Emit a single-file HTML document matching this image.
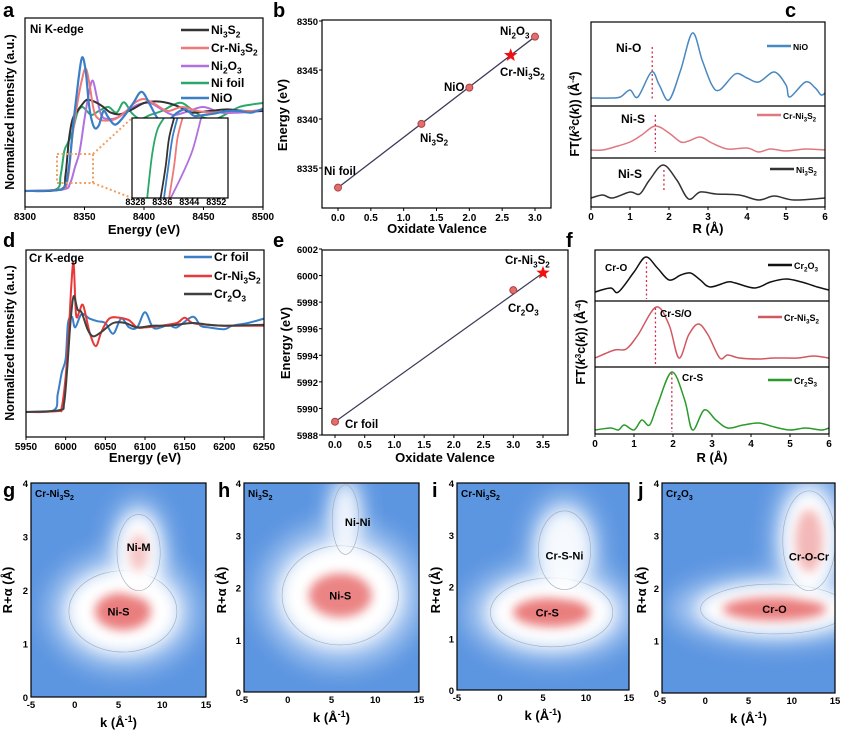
<!DOCTYPE html>
<html><head><meta charset="utf-8"><style>
html,body{margin:0;padding:0;background:#fff;}
svg{display:block;font-family:"Liberation Sans",Arial,sans-serif;}
text{font-weight:bold;}
</style></head><body>
<svg id="fig" width="842" height="742" viewBox="0 0 842 742" xmlns="http://www.w3.org/2000/svg">
<defs>
<filter id="blurA" x="-50%" y="-50%" width="200%" height="200%"><feGaussianBlur stdDeviation="8"/></filter>
<filter id="blurO" x="-50%" y="-50%" width="200%" height="200%"><feGaussianBlur stdDeviation="12"/></filter>
<filter id="blurB" x="-50%" y="-50%" width="200%" height="200%"><feGaussianBlur stdDeviation="5"/></filter>
<clipPath id="cg"><rect x="31" y="483" width="175" height="214"/></clipPath>
<clipPath id="ch"><rect x="244" y="483" width="175" height="209"/></clipPath>
<clipPath id="ci"><rect x="457" y="483" width="172" height="207"/></clipPath>
<clipPath id="cj"><rect x="662" y="483" width="173" height="210"/></clipPath>
</defs>
</svg>
<script>
// ===== Panel a data (Ni K-edge XANES) =====
const aNiOE=[8300,8325,8333,8337,8341,8345,8348,8351,8354,8358,8362,8366,8370,8376,8384,8391,8398,8405,8412,8420,8428,8435,8442,8450,8460,8470,8480,8490,8500];
const aNiOV=[0,0.01,0.05,0.3,0.9,1.4,1.67,1.5,1.05,0.8,0.82,1.0,0.92,0.83,0.95,1.1,1.24,1.08,0.9,0.88,0.98,1.02,0.94,0.95,0.97,1.0,1.0,0.98,1.03];
const aCrE=[8300,8330,8336,8340,8344,8348,8351,8354,8358,8362,8368,8376,8385,8392,8400,8410,8420,8432,8445,8460,8475,8490,8500];
const aCrV=[0,0.02,0.15,0.7,1.1,1.4,1.53,1.35,1.0,0.9,0.88,0.9,1.0,1.1,1.15,1.08,1.0,1.05,1.0,0.98,1.0,1.0,1.02];
const aO3E=[8300,8332,8338,8342,8346,8350,8354,8357,8360,8364,8370,8378,8386,8395,8405,8415,8425,8438,8450,8465,8480,8500];
const aO3V=[0,0.02,0.1,0.3,0.5,0.9,1.25,1.38,1.2,0.95,0.9,0.92,1.0,1.08,1.1,1.02,0.95,1.0,1.05,0.98,0.98,1.0];
const aS2E=[8300,8330,8334,8337,8340,8344,8348,8352,8358,8365,8372,8380,8390,8400,8410,8420,8430,8440,8455,8470,8485,8500];
const aS2V=[0,0.02,0.2,0.65,0.9,1.0,1.08,1.14,1.12,1.06,0.98,0.96,1.02,1.1,1.12,1.1,1.05,0.98,1.0,1.02,1.0,1.0];
const aFoE=[8300,8326,8330,8333,8336,8340,8344,8348,8352,8356,8362,8370,8377,8383,8390,8397,8405,8415,8425,8432,8440,8450,8460,8470,8480,8490,8500];
const aFoV=[0,0.02,0.2,0.5,0.6,0.75,0.98,1.05,1.0,0.95,1.0,1.05,0.98,1.11,0.97,0.9,0.95,1.0,1.08,1.1,1.02,0.92,0.9,0.97,1.05,1.08,1.1];
// inset (zoomed edge)
const inE_Fo=[8331.5,8333,8334.5,8336.5];const inV_Fo=[0.0,0.55,0.85,1.0];
const inE_S2=[8335.5,8337,8338,8339.5];const inV_S2=[0.0,0.4,0.75,1.0];
const inE_NiO=[8336.5,8337.8,8339,8340.5];const inV_NiO=[0.0,0.4,0.75,1.0];
const inE_Cr=[8338,8339.5,8340.5,8342];const inV_Cr=[0.0,0.4,0.75,1.0];
const inE_O3=[8338.5,8342,8345,8347.5];const inV_O3=[0.0,0.3,0.6,1.0];
const aXTicks=[8300,8350,8400,8450,8500];
const inTicks=[8328,8336,8344,8352];
// ===== Panel b data =====
const bVal=[0,1.27,2,3];
const bEn=[8333,8339.5,8343.2,8348.4];
const bStar=[2.63,8346.5];
const bXTicks=[0,0.5,1,1.5,2,2.5,3];
const bYTicks=[8335,8340,8345,8350];
// ===== Panel c data (FT-EXAFS Ni) =====
const cNiOR=[0,0.5,0.75,1.0,1.2,1.55,1.75,2.0,2.3,2.6,2.85,3.1,3.3,3.7,4.0,4.3,4.7,5.0,5.1,5.5,5.75,5.9,6.0];
const cNiOV=[8,8,9,16,9,34,21,6,36,73,46,21,16,32,28,24,34,21,9,24,18,11,13];
const cCrR=[0,0.3,0.6,1.0,1.3,1.65,2.0,2.3,2.5,2.8,3.1,3.5,4.0,4.3,4.6,5.0,5.5,6.0];
const cCrV=[8,8,11,16,23,32,25,16,17,21,15,9,10,6,9,7,9,8];
const cS2R=[0,0.3,0.55,1.0,1.25,1.5,1.85,2.2,2.5,2.8,3.2,3.8,4.3,4.7,5.2,6.0];
const cS2V=[9,12,9,15,13,27,42,27,8,15,13,12,7,11,7,9];
const cXTicks=[0,1,2,3,4,5,6];
// ===== Panel d data (Cr K-edge) =====
const dFoE=[5950,5985,5990,5995,6000,6003,6008,6012,6020,6030,6040,6050,6060,6070,6080,6090,6100,6110,6120,6130,6140,6160,6170,6180,6200,6210,6230,6250];
const dFoV=[0,0.02,0.2,0.44,0.6,1.0,1.07,0.95,1.1,1.05,1.02,1.0,0.88,1.05,0.95,0.95,1.12,0.95,0.95,0.98,0.95,1.07,0.97,0.95,0.93,0.97,1.0,1.05];
const dCrE=[5950,5990,5995,6000,6004,6007,6010,6013,6017,6022,6030,6038,6045,6055,6068,6080,6090,6100,6120,6140,6150,6160,6180,6200,6250];
const dCrV=[0,0.01,0.05,0.4,0.9,1.4,1.67,1.1,1.12,1.2,0.9,0.74,0.9,1.05,1.06,1.03,0.95,0.95,0.97,1.0,1.06,1.0,0.98,0.97,0.97];
const dOE=[5950,5992,5998,6002,6006,6010,6015,6020,6028,6035,6045,6060,6075,6090,6110,6130,6160,6180,6200,6250];
const dOV=[0,0.02,0.1,0.5,1.0,1.3,1.15,1.12,0.92,0.85,0.9,1.0,1.0,0.95,0.97,0.97,1.0,0.98,0.97,0.98];
const dXTicks=[5950,6000,6050,6100,6150,6200,6250];
// ===== Panel e data =====
const eVal=[0,3];
const eEn=[5989,5998.9];
const eStar=[3.5,6000.2];
const eXTicks=[0,0.5,1,1.5,2,2.5,3,3.5];
const eYTicks=[5988,5990,5992,5994,5996,5998,6000,6002];
// ===== Panel f data (FT-EXAFS Cr) =====
const fOR=[0,0.4,0.6,1.0,1.3,1.6,1.9,2.2,2.45,2.7,2.95,3.4,3.6,4.1,4.5,4.9,5.3,5.7,6.0];
const fOV=[9,13,9,29,44,33,21,26,28,21,14,19,18,13,19,22,19,14,11];
const fCrR=[0,0.5,0.8,1.1,1.57,1.9,2.15,2.4,2.65,2.9,3.2,3.4,3.7,4.2,4.6,5.2,5.6,6.0];
const fCrV=[9,17,18,32,60,42,9,32,43,32,9,12,9,8,9,9,11,9];
const fSR=[0,0.4,0.6,0.75,1.0,1.2,1.4,1.6,1.97,2.3,2.5,2.8,3.1,3.4,3.8,4.2,4.6,5.0,5.4,5.8,6.0];
const fSV=[4,6,4,9,4,14,9,29,62,34,4,24,14,6,9,11,7,4,6,4,6];
// ===== Wavelet transform peaks (k, R, amplitude) =====
const gK=[5.5,7.3];const gR=[1.6,2.7];const gAmp=[1,0.45];
const hK=[6,6.6];const hR=[1.85,3.3];const hAmp=[0.95,0.15];
const iK=[6,7.5];const iR=[1.5,2.7];const iAmp=[1,0.2];
const jK=[8,12];const jR=[1.6,2.9];const jAmp=[1,0.55];
const wkTicks=[-5,0,5,10,15];
const wrTicks=[0,1,2,3,4];

const svg=document.getElementById('fig');
const NS='http://www.w3.org/2000/svg';
function el(tag,attrs,parent){const e=document.createElementNS(NS,tag);for(const k in attrs)e.setAttribute(k,attrs[k]);(parent||svg).appendChild(e);return e;}
function lin(d0,d1,r0,r1){return v=>r0+(v-d0)*(r1-r0)/(d1-d0);}
function sub(e,str,fs){
  const parts=str.split(/_(\d)/);
  parts.forEach((p,i)=>{if(!p)return;const t=document.createElementNS(NS,'tspan');
    if(i%2===1){t.setAttribute('dy',fs*0.3);t.setAttribute('font-size',fs*0.7);t.textContent=p;e.appendChild(t);
      const r=document.createElementNS(NS,'tspan');r.setAttribute('dy',-fs*0.3);r.textContent='\u200b';e.appendChild(r);}
    else{t.textContent=p;e.appendChild(t);}});
}
function txt(x,y,str,fs,opts,name){
  const e=el('text',Object.assign({x:x,y:y,'font-size':fs},opts||{}));
  sub(e,str,fs);
  
  
  return e;
}
function poly(xs,ys,sx,sy,color,w,name){
  const P=xs.map((x,i)=>[sx(x),sy(ys[i])]);
  let d='M'+P[0][0].toFixed(1)+','+P[0][1].toFixed(1);
  for(let i=0;i<P.length-1;i++){
    const p0=P[Math.max(0,i-1)],p1=P[i],p2=P[i+1],p3=P[Math.min(P.length-1,i+2)];
    const c1=[p1[0]+(p2[0]-p0[0])/6,p1[1]+(p2[1]-p0[1])/6];
    const c2=[p2[0]-(p3[0]-p1[0])/6,p2[1]-(p3[1]-p1[1])/6];
    d+=' C'+c1[0].toFixed(1)+','+c1[1].toFixed(1)+' '+c2[0].toFixed(1)+','+c2[1].toFixed(1)+' '+p2[0].toFixed(1)+','+p2[1].toFixed(1);
  }
  const p=el('path',{d:d,fill:'none',stroke:color,'stroke-width':w,'stroke-linejoin':'round'});
  
  
  return p;
}
function frame(x,y,w,h,name){
  const r=el('rect',{x:x,y:y,width:w,height:h,fill:'none',stroke:'#000','stroke-width':1.2});
  
  
}
function xticks(ticks,sx,y,fs,name,fmt){
  ticks.forEach(t=>{const X=sx(t);
    const l=el('line',{x1:X,x2:X,y1:y,y2:y+3,stroke:'#000','stroke-width':1});
    
    
    txt(X,y+13,fmt?fmt(t):String(t),fs,{'text-anchor':'middle'},name+'-label');});
}
function yticks(ticks,sy,x,fs,name,fmt){
  ticks.forEach(t=>{const Y=sy(t);
    const l=el('line',{x1:x-3,x2:x,y1:Y,y2:Y,stroke:'#000','stroke-width':1});
    
    
    txt(x-4,Y+4,fmt?fmt(t):String(t),fs,{'text-anchor':'end'},name+'-label');});
}
function ytitle(x,y,str,fs,name){
  return txt(x,y,str,fs,{'text-anchor':'middle',transform:'rotate(-90 '+x+' '+y+')'},name);
}
function legend(x,y,color,label,fs,name,len){
  const l=el('line',{x1:x,x2:x+(len||28),y1:y,y2:y,stroke:color,'stroke-width':2.5});
  
  
  txt(x+(len||28)+2,y+4,label,fs,{},name);
}
function marker(cx,cy,name){
  const c=el('circle',{cx:cx,cy:cy,r:3.5,fill:'#e07070',stroke:'#b04040','stroke-width':1});
  
  
}
function star(cx,cy,r,name){
  let pts=[];for(let i=0;i<10;i++){const a=-Math.PI/2+i*Math.PI/5;const rr=i%2?r*0.42:r;pts.push((cx+rr*Math.cos(a)).toFixed(1)+','+(cy+rr*Math.sin(a)).toFixed(1));}
  const p=el('polygon',{points:pts.join(' '),fill:'#ee1111'});
  
  
}
function vdot(x,y1,y2,name){
  const l=el('line',{x1:x,x2:x,y1:y1,y2:y2,stroke:'#d03050','stroke-width':1.3,'stroke-dasharray':'2,2.5'});
  
  
}
const fs=10;

// ===== Panel a =====
txt(3,17,'a',20,{},'panel-label-a');
{const sx=lin(8300,8500,25,263), sy=lin(0,1,191,111);
 poly(aFoE,aFoV,sx,sy,'#2aa86a',2,'series-ni-foil');
 poly(aO3E,aO3V,sx,sy,'#b070e0',2,'series-ni2o3');
 poly(aS2E,aS2V,sx,sy,'#333333',2,'series-ni3s2');
 poly(aCrE,aCrV,sx,sy,'#f07878',2,'series-cr-ni3s2');
 poly(aNiOE,aNiOV,sx,sy,'#3a7ec8',2.2,'series-nio');
 frame(25,18,238,189,'plot-frame-a');
 xticks(aXTicks,sx,207,fs,'x-axis-a');
 txt(144,234,'Energy (eV)',13,{'text-anchor':'middle'},'x-axis-title-a');
 ytitle(14,112,'Normalized intensity (a.u.)',12.5,'y-axis-title-a');
 txt(30,33,'Ni K-edge',11.5,{},'edge-label-a');
 legend(181,30,'#333333','Ni_3S_2',12,'legend-ni3s2');
 legend(181,48,'#f07878','Cr-Ni_3S_2',12,'legend-cr-ni3s2');
 legend(181,66,'#b070e0','Ni_2O_3',12,'legend-ni2o3');
 legend(181,83,'#2aa86a','Ni foil',12,'legend-ni-foil');
 legend(181,98,'#3a7ec8','NiO',12,'legend-nio');
 const zb=el('rect',{x:57,y:154,width:36,height:29,fill:'none',stroke:'#f0a060','stroke-width':2,'stroke-dasharray':'2,2.5'});
 
 
 [[93,154,132,118],[93,183,132,198]].forEach(c=>{const l=el('line',{x1:c[0],y1:c[1],x2:c[2],y2:c[3],stroke:'#f0a060','stroke-width':2,'stroke-dasharray':'2,2.5'});
  
  });
 const bg=el('rect',{x:132,y:118,width:96,height:80,fill:'#fff'});
 
 
 const ix=lin(8327,8355.5,132,228), iy=lin(0,1,198,118);
 poly(inE_Fo,inV_Fo,ix,iy,'#2aa86a',1.8,'inset-ni-foil');
 poly(inE_S2,inV_S2,ix,iy,'#333333',1.8,'inset-ni3s2');
 poly(inE_NiO,inV_NiO,ix,iy,'#3a7ec8',1.8,'inset-nio');
 poly(inE_Cr,inV_Cr,ix,iy,'#f07878',1.8,'inset-cr-ni3s2');
 poly(inE_O3,inV_O3,ix,iy,'#b070e0',1.8,'inset-ni2o3');
 frame(132,118,96,80,'inset-frame');
 inTicks.forEach(t=>txt(ix(t),205,String(t),9,{'text-anchor':'middle'},'inset-x-label'));
}
// ===== Panel b =====
txt(273,17,'b',20,{},'panel-label-b');
{const sx=lin(0,3,338,535), sy=lin(8335,8350,168,21);
 const l=el('line',{x1:sx(bVal[0]),y1:sy(bEn[0]),x2:sx(bVal[bVal.length-1]),y2:sy(bEn[bEn.length-1]),stroke:'#3a3a5a','stroke-width':1.3});
 
 
 bVal.forEach((v,i)=>marker(sx(v),sy(bEn[i]),'point-b-'+i));
 star(sx(bStar[0]),sy(bStar[1]),7,'star-cr-ni3s2-b');
 frame(322,20,229,188,'plot-frame-b');
 xticks(bXTicks,sx,208,fs,'x-axis-b',t=>t.toFixed(1));
 yticks(bYTicks,sy,322,9.5,'y-axis-b');
 txt(437,233,'Oxidate Valence',13,{'text-anchor':'middle'},'x-axis-title-b');
 ytitle(287,115,'Energy (eV)',13,'y-axis-title-b');
 txt(324,175,'Ni foil',11.5,{},'label-ni-foil');
 txt(420,142,'Ni_3S_2',11.5,{},'label-ni3s2');
 txt(444,91,'NiO',11.5,{},'label-nio');
 txt(500,76,'Cr-Ni_3S_2',11.5,{},'label-cr-ni3s2');
 txt(500,35,'Ni_2O_3',11.5,{},'label-ni2o3');
}
// ===== Panel c =====
txt(785,17,'c',20,{},'panel-label-c');
{const sx=lin(0,6,591,825);
 const s1=lin(0,1,106,105), s2=lin(0,1,158,157), s3=lin(0,1,207,206);
 poly(cNiOR,cNiOV,sx,s1,'#4a88c0',1.5,'series-nio-ft');
 poly(cCrR,cCrV,sx,s2,'#e07880',1.5,'series-cr-ni3s2-ft');
 poly(cS2R,cS2V,sx,s3,'#333333',1.5,'series-ni3s2-ft');
 vdot(sx(1.57),47,100,'marker-ni-o');
 vdot(sx(1.65),115,152,'marker-ni-s-mid');
 vdot(sx(1.87),170,192,'marker-ni-s-bottom');
 frame(591,22,234,185,'plot-frame-c');
 [106,158].forEach(y=>{const l=el('line',{x1:591,x2:825,y1:y,y2:y,stroke:'#000','stroke-width':1.2});
  
  });
 xticks(cXTicks,sx,207,fs,'x-axis-c');
 txt(708,233,'R (Å)',13,{'text-anchor':'middle'},'x-axis-title-c');
 const yt=el('text',{x:579,y:114,'font-size':12.5,'text-anchor':'middle',transform:'rotate(-90 579 114)'});
 yt.innerHTML='FT(<tspan font-style="italic">k</tspan><tspan dy="-4" font-size="8">3</tspan><tspan dy="4">c(</tspan><tspan font-style="italic">k</tspan>)) (Å<tspan dy="-4" font-size="8">-4</tspan><tspan dy="4">)</tspan>';
 
 
 txt(616,52,'Ni-O',12,{},'label-ni-o');
 txt(621,123,'Ni-S',12,{},'label-ni-s-mid');
 txt(618,178,'Ni-S',12,{},'label-ni-s-bottom');
 legend(767,46,'#4a88c0','NiO',8.5,'legend-nio-c',24);
 legend(757,115,'#e07880','Cr-Ni_3S_2',8.5,'legend-cr-ni3s2-c',24);
 legend(770,169,'#333333','Ni_3S_2',8.5,'legend-ni3s2-c',24);
}
// ===== Panel d =====
txt(3,247,'d',20,{},'panel-label-d');
{const sx=lin(5950,6250,26,264), sy=lin(0,1,412,323);
 poly(dFoE,dFoV,sx,sy,'#3a7ec8',2,'series-cr-foil');
 poly(dCrE,dCrV,sx,sy,'#e83838',2,'series-cr-ni3s2-d');
 poly(dOE,dOV,sx,sy,'#404040',2,'series-cr2o3-d');
 frame(26,250,238,187,'plot-frame-d');
 xticks(dXTicks,sx,437,fs,'x-axis-d');
 txt(145,462,'Energy (eV)',13,{'text-anchor':'middle'},'x-axis-title-d');
 ytitle(14,343,'Normalized intensity (a.u.)',12.5,'y-axis-title-d');
 txt(29,262,'Cr K-edge',11.5,{},'edge-label-d');
 legend(184,257,'#3a7ec8','Cr foil',12,'legend-cr-foil');
 legend(184,276,'#e83838','Cr-Ni_3S_2',12,'legend-cr-ni3s2-d');
 legend(184,294,'#404040','Cr_2O_3',12,'legend-cr2o3-d');
}
// ===== Panel e =====
txt(273,247,'e',20,{},'panel-label-e');
{const sx=lin(0,3.5,335,543), sy=lin(5988,6002,435,249);
 const l=el('line',{x1:sx(eVal[0]),y1:sy(eEn[0]),x2:sx(eStar[0]),y2:sy(eStar[1]),stroke:'#3a3a5a','stroke-width':1.2});
 
 
 eVal.forEach((v,i)=>marker(sx(v),sy(eEn[i]),'point-e-'+i));
 star(sx(eStar[0]),sy(eStar[1]),7,'star-cr-ni3s2-e');
 frame(322,250,246,185,'plot-frame-e');
 xticks(eXTicks,sx,435,fs,'x-axis-e',t=>t.toFixed(1));
 yticks(eYTicks,sy,322,9.5,'y-axis-e');
 txt(445,462,'Oxidate Valence',13,{'text-anchor':'middle'},'x-axis-title-e');
 ytitle(290,343,'Energy (eV)',13,'y-axis-title-e');
 txt(345,428,'Cr foil',11.5,{},'label-cr-foil');
 txt(508,312,'Cr_2O_3',11.5,{},'label-cr2o3');
 txt(505,264,'Cr-Ni_3S_2',11.5,{},'label-cr-ni3s2-e');
}
// ===== Panel f =====
txt(566,247,'f',20,{},'panel-label-f');
{const sx=lin(0,6,595,829);
 const s1=lin(0,1,301,300), s2=lin(0,1,367,366), s3=lin(0,1,434,433);
 poly(fOR,fOV,sx,s1,'#111111',1.5,'series-cr2o3-ft');
 poly(fCrR,fCrV,sx,s2,'#d05860',1.5,'series-cr-ni3s2-ft');
 poly(fSR,fSV,sx,s3,'#2a9a2a',1.5,'series-cr2s3-ft');
 vdot(sx(1.32),262,299,'marker-cr-o');
 vdot(sx(1.55),308,365,'marker-cr-so');
 vdot(sx(1.97),373,432,'marker-cr-s');
 frame(595,250,234,184,'plot-frame-f');
 [301,367].forEach(y=>{const l=el('line',{x1:595,x2:829,y1:y,y2:y,stroke:'#000','stroke-width':1.2});
  
  });
 xticks(cXTicks,sx,434,fs,'x-axis-f');
 txt(712,462,'R (Å)',13,{'text-anchor':'middle'},'x-axis-title-f');
 const yt=el('text',{x:585,y:342,'font-size':12.5,'text-anchor':'middle',transform:'rotate(-90 585 342)'});
 yt.innerHTML='FT(<tspan font-style="italic">k</tspan><tspan dy="-4" font-size="8">3</tspan><tspan dy="4">c(</tspan><tspan font-style="italic">k</tspan>)) (Å<tspan dy="-4" font-size="8">-4</tspan><tspan dy="4">)</tspan>';
 
 
 txt(605,271,'Cr-O',10,{},'label-cr-o');
 txt(660,317,'Cr-S/O',10,{},'label-cr-so');
 txt(682,381,'Cr-S',10,{},'label-cr-s');
 legend(768,265,'#111111','Cr_2O_3',9,'legend-cr2o3-f',24);
 legend(758,317,'#d05860','Cr-Ni_3S_2',9,'legend-cr-ni3s2-f',24);
 legend(768,380,'#2a9a2a','Cr_2S_3',9,'legend-cr2s3-f',24);
}
// ===== Wavelet panels =====
function wt(letter,lx,x0,x1,y0,y1,clip,K,R,A,spreads,title,labels,rtx){
  const sx=lin(-5,15,x0,x1), sy=lin(0,4,y1,y0);
  const pxk=(x1-x0)/20, pyr=(y1-y0)/4;
  const g=el('g',{'clip-path':'url(#'+clip+')'});
  
  
  const bgr=el('rect',{x:x0,y:y0,width:x1-x0,height:y1-y0,fill:'#5c95e0'},g);
  
  
  K.forEach((k,i)=>{const sp=spreads[i];const cx=sx(k),cy=sy(R[i]);
    const outer=el('ellipse',{cx:cx,cy:cy,rx:sp[0]*pxk*1.35,ry:sp[1]*pyr*1.4,fill:'#b8d2f4',opacity:0.8,filter:'url(#blurO)'},g);
    
    
  });
  K.forEach((k,i)=>{const sp=spreads[i];const cx=sx(k),cy=sy(R[i]);
    const halo=el('ellipse',{cx:cx,cy:cy,rx:sp[0]*pxk,ry:sp[1]*pyr,fill:'#ffffff',opacity:Math.min(1,0.7+A[i]),filter:'url(#blurA)'},g);
    
    
    const ct=el('ellipse',{cx:cx,cy:cy,rx:sp[0]*pxk*0.95,ry:sp[1]*pyr*0.95,fill:'none',stroke:'#a0aabb','stroke-width':0.6},g);
    
    
    if(A[i]>0.3){const core=el('ellipse',{cx:cx,cy:cy,rx:sp[2]*pxk,ry:sp[3]*pyr,fill:'#e87070',opacity:A[i]*0.9,filter:'url(#blurB)'},g);
      
      }
  });
  frame(x0,y0,x1-x0,y1-y0,'plot-frame-'+letter);
  wkTicks.forEach(t=>txt(sx(t),y1+11,String(t),9.5,{'text-anchor':'middle'},'k-axis-label-'+letter));
  wrTicks.forEach(t=>txt(x0-3,sy(t)+4,String(t),9.5,{'text-anchor':'end'},'r-axis-label-'+letter));
  const kt=el('text',{x:(x0+x1)/2,y:y1+30,'font-size':13,'text-anchor':'middle'});
  kt.innerHTML='k (Å<tspan dy="-5" font-size="9">-1</tspan><tspan dy="5">)</tspan>';
  
  
  ytitle(rtx,590,'R+α (Å)',13,'r-axis-title-'+letter);
  txt(lx,497,letter,20,{},'panel-label-'+letter);
  txt(x0+4,497,title,10,{},'wavelet-title-'+letter);
  labels.forEach(L=>txt(sx(L[1]),sy(L[2])+4,L[0],11,{'text-anchor':'middle'},'peak-label-'+letter));
}
wt('g',3,31,206,483,697,'cg',gK,gR,gAmp,[[6.5,0.8,3.2,0.35],[2.6,0.75,1.1,0.35]],'Cr-Ni_3S_2',[['Ni-S',5,1.6],['Ni-M',7.3,2.8]],12);
wt('h',218,244,419,483,692,'ch',hK,hR,hAmp,[[7,1.0,3.6,0.42],[1.6,0.7,0,0]],'Ni_3S_2',[['Ni-S',6,1.85],['Ni-Ni',8,3.25]],226);
wt('i',432,457,629,483,690,'ci',iK,iR,iAmp,[[7.5,0.7,4.5,0.28],[3.2,0.8,0,0]],'Cr-Ni_3S_2',[['Cr-S',5.5,1.5],['Cr-S-Ni',7.5,2.6]],440);
wt('j',638,662,835,483,693,'cj',jK,jR,jAmp,[[9,0.5,6,0.22],[3.2,1.0,1.6,0.6]],'Cr_2O_3',[['Cr-O',8,1.6],['Cr-O-Cr',12,2.6]],646);
</script>
</body></html>
